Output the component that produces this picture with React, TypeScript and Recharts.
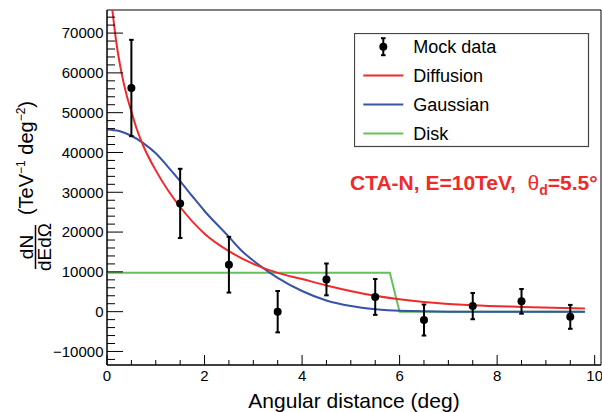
import React from 'react';
import {
  ComposedChart,
  Line,
  Scatter,
  ErrorBar,
  XAxis,
  YAxis,
  ReferenceArea,
  Legend,
} from 'recharts';

const FONT = '"Liberation Sans", Arial, Helvetica, sans-serif';

const RED = '#f02a2a';
const BLUE = '#3752a8';
const GREEN = '#66c05c';

// mock data (bin centres, values, errors)
const mockX = [0.5, 1.5, 2.5, 3.5, 4.5, 5.5, 6.5, 7.5, 8.5, 9.5];
const mockY = [56200, 27200, 11800, 0, 8100, 3700, -2100, 1400, 2600, -1300];
const mockErr = [12100, 8700, 7000, 5200, 4000, 4500, 3900, 3300, 3100, 3000];

// diffusion model curve
const diffX = [0.11, 0.185, 0.29, 0.4, 0.5, 0.61, 0.75, 1.0, 1.25, 1.5, 2.0, 2.5, 3.0, 3.5, 4.0, 4.5, 5.5, 6.5, 7.5, 8.5, 9.8];
const diffY = [75800, 68200, 60500, 54500, 50300, 45900, 41500, 35500, 30500, 26300, 19600, 15200, 12000, 9750, 8200, 6600, 4000, 2460, 1630, 1200, 800];

// gaussian model curve
const gaussX = [0, 0.25, 0.5, 0.75, 1.0, 1.25, 1.5, 1.75, 2.0, 2.5, 2.75, 3.17, 3.5, 4.0, 4.5, 5.0, 5.5, 6.0, 7.0, 8.0, 9.8];
const gaussY = [45800, 45400, 44200, 42300, 39800, 36400, 32800, 29000, 25300, 18800, 15450, 11260, 8500, 5200, 2800, 1400, 600, 200, 0, 0, 0];

// disk model
const diskX = [0, 5.8, 6.0, 9.8];
const diskY = [9750, 9750, 0, 0];

// axes
const X_DOMAIN: [number, number] = [0, 10.13];
const Y_DOMAIN: [number, number] = [-13400, 75800];
const xMajor = [0, 2, 4, 6, 8, 10];
const yMajor = [-10000, 0, 10000, 20000, 30000, 40000, 50000, 60000, 70000];
const xTicks = Array.from({ length: 21 }, (_, i) => i * 0.5);
const yTicks = Array.from({ length: 44 }, (_, i) => -12000 + i * 2000);

const toPts = (xs: number[], ys: number[]) => xs.map((x, i) => ({ x, y: ys[i] }));
const diffData = toPts(diffX, diffY);
const gaussData = toPts(gaussX, gaussY);
const diskData = toPts(diskX, diskY);
const mockData = mockX.map((x, i) => ({ x, y: mockY[i], err: mockErr[i] }));

const XTick = (props: any) => {
  const { x, y, payload } = props;
  const v = payload.value;
  const major = xMajor.includes(v);
  return (
    <g>
      <line x1={x} x2={x} y1={y} y2={y - (major ? 10 : 5)} stroke="#000" strokeWidth={1} />
      {major && (
        <text x={x} y={y + 15.5} textAnchor="middle" fontSize={15} fontFamily={FONT} fill="#000">
          {v}
        </text>
      )}
    </g>
  );
};

const YTick = (props: any) => {
  const { x, y, payload } = props;
  const v = payload.value;
  const major = yMajor.includes(v);
  return (
    <g>
      <line x1={x} x2={x + (major ? 16 : 8)} y1={y} y2={y} stroke="#000" strokeWidth={1} />
      {major && (
        <text x={x - 3.5} y={y + 5.3} textAnchor="end" fontSize={15} fontFamily={FONT} fill="#000">
          {v < 0 ? '\u2212' + Math.abs(v) : v}
        </text>
      )}
    </g>
  );
};

const renderDot = (props: any) => <circle cx={props.cx} cy={props.cy} r={4} fill="#000" />;

const legendRows = [
  { name: 'Mock data', color: '#000', kind: 'marker' },
  { name: 'Diffusion', color: RED, kind: 'line' },
  { name: 'Gaussian', color: BLUE, kind: 'line' },
  { name: 'Disk', color: GREEN, kind: 'line' },
];

const LegendBox = () => (
  <svg width={236} height={115} style={{ display: 'block' }}>
    <rect x={0.5} y={0.5} width={234} height={113} fill="#fff" stroke="#444" strokeWidth={1.2} />
    {legendRows.map((r, i) => {
      const cy = 13.7 + i * 28.9;
      return (
        <g key={r.name}>
          {r.kind === 'marker' ? (
            <g>
              <line x1={29.3} x2={29.3} y1={cy - 8.5} y2={cy + 8.5} stroke="#000" strokeWidth={2} />
              <line x1={27} x2={31.6} y1={cy - 8.5} y2={cy - 8.5} stroke="#000" strokeWidth={2} />
              <line x1={27} x2={31.6} y1={cy + 8.5} y2={cy + 8.5} stroke="#000" strokeWidth={2} />
              <circle cx={29.3} cy={cy} r={4} fill="#000" />
            </g>
          ) : (
            <line x1={9.3} x2={49.3} y1={cy} y2={cy} stroke={r.color} strokeWidth={2} />
          )}
          <text x={59.3} y={cy + 6.4} fontSize={18} fontFamily={FONT} fill="#000">
            {r.name}
          </text>
        </g>
      );
    })}
  </svg>
);

export default function App() {
  return (
    <div style={{ position: 'absolute', left: 0, top: 0, width: 602, height: 412, background: '#fff' }}>
      <ComposedChart
        width={602}
        height={412}
        margin={{ top: 10, right: 1, bottom: 0, left: 0 }}
        style={{ fontFamily: FONT }}
      >
        <XAxis
          type="number"
          dataKey="x"
          domain={X_DOMAIN}
          allowDataOverflow
          ticks={xTicks}
          interval={0}
          tickSize={0}
          tickMargin={0}
          tickLine={false}
          tick={<XTick />}
          axisLine={{ stroke: '#000' }}
          height={47}
          label={{
            value: 'Angular distance (deg)',
            position: 'insideBottom',
            offset: 4,
            fontSize: 21,
            fill: '#000',
            fontFamily: FONT,
          }}
        />
        <YAxis
          type="number"
          dataKey="y"
          domain={Y_DOMAIN}
          allowDataOverflow
          ticks={yTicks}
          interval={0}
          tickSize={0}
          tickMargin={0}
          tickLine={false}
          tick={<YTick />}
          axisLine={{ stroke: '#000' }}
          width={107}
        />
        <ReferenceArea
          x1={X_DOMAIN[0]}
          x2={X_DOMAIN[1]}
          y1={Y_DOMAIN[0]}
          y2={Y_DOMAIN[1]}
          fill="none"
          fillOpacity={0}
          stroke="#000"
          strokeOpacity={1}
          strokeWidth={1}
        />
        <Line
          data={diskData}
          dataKey="y"
          type="linear"
          stroke={GREEN}
          strokeWidth={2}
          dot={false}
          activeDot={false}
          isAnimationActive={false}
        />
        <Line
          data={gaussData}
          dataKey="y"
          type="monotone"
          stroke={BLUE}
          strokeWidth={2}
          dot={false}
          activeDot={false}
          isAnimationActive={false}
        />
        <Line
          data={diffData}
          dataKey="y"
          type="monotone"
          stroke={RED}
          strokeWidth={2}
          dot={false}
          activeDot={false}
          isAnimationActive={false}
        />
        <Scatter data={mockData} dataKey="y" fill="#000" shape={renderDot} isAnimationActive={false}>
          <ErrorBar dataKey="err" direction="y" width={2.3} strokeWidth={2} stroke="#000" isAnimationActive={false} />
        </Scatter>
        <Legend
          layout="horizontal"
          verticalAlign="middle"
          align="center"
          wrapperStyle={{ position: 'absolute', left: 354, top: 33, width: 236, height: 115 }}
          content={() => <LegendBox />}
        />
      </ComposedChart>

      {/* axis title + annotation */}
      <svg
        width={602}
        height={412}
        style={{ position: 'absolute', left: 0, top: 0, pointerEvents: 'none' }}
        fontFamily={FONT}
      >
        <text transform="translate(33,158) rotate(-90)" textAnchor="middle" fontSize={20} fill="#000">
          (TeV
          <tspan fontSize={12} dy={-8}>{'\u22121'}</tspan>
          <tspan dy={8}>{' deg'}</tspan>
          <tspan fontSize={12} dy={-8}>{'\u22122'}</tspan>
          <tspan dy={8}>)</tspan>
        </text>
        <text transform="translate(33,247) rotate(-90)" textAnchor="middle" fontSize={19} fill="#000">
          dN
        </text>
        <line x1={35.5} x2={35.5} y1={225} y2={269} stroke="#000" strokeWidth={1.5} />
        <text transform="translate(51,247) rotate(-90)" textAnchor="middle" fontSize={19} fill="#000">
          {'dEd\u03a9'}
        </text>
        <text x={350} y={190} fontSize={21} fontWeight="bold" fill={RED}>
          {'CTA-N, E=10TeV,\u00a0 '}
          <tspan fontWeight="normal">{'\u03b8'}</tspan>
          <tspan fontSize={14} dy={5}>d</tspan>
          <tspan dy={-5}>=5.5°</tspan>
        </text>
      </svg>
    </div>
  );
}
